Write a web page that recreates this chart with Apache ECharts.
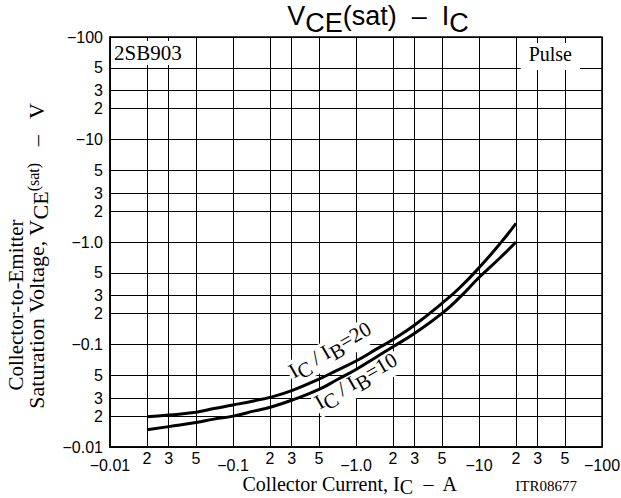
<!DOCTYPE html>
<html><head><meta charset="utf-8">
<script src="https://cdn.jsdelivr.net/npm/echarts@6/dist/echarts.min.js"></script>
<style>html,body{margin:0;padding:0;background:#fff}#c{width:621px;height:498px}</style>
</head><body><div id="c"></div>
<script>
// Collector current (magnitude, A) and saturation voltage (magnitude, V)
const currentA   = [0.02, 0.03, 0.05, 0.07, 0.1, 0.15, 0.2, 0.3, 0.5, 0.7, 1, 1.5, 2, 3, 5, 7, 10, 15, 20];
const vceRatio20 = [0.0197, 0.0205, 0.0218, 0.0237, 0.0257, 0.0283, 0.0305, 0.0355, 0.046, 0.056, 0.069, 0.0916, 0.112, 0.155, 0.252, 0.36, 0.56, 0.98, 1.52];
const vceRatio10 = [0.0147, 0.0158, 0.0173, 0.0187, 0.0200, 0.0225, 0.0244, 0.0286, 0.0365, 0.0453, 0.057, 0.0769, 0.095, 0.129, 0.201, 0.29, 0.45, 0.71, 1.0];

const decadeValues = [0.01, 0.1, 1, 10, 100];
const decadeLabels = ['\u22120.01', '\u22120.1', '\u22121.0', '\u221210', '\u2212100'];
const minorValues  = [0.02, 0.03, 0.05, 0.2, 0.3, 0.5, 2, 3, 5, 20, 30, 50];
const minorLabels  = ['2', '3', '5', '2', '3', '5', '2', '3', '5', '2', '3', '5'];

const gridValues = decadeValues.concat(minorValues).sort((a, b) => a - b);

const SERIF = '"Liberation Serif","Times New Roman",Times,serif';
const SANS = '"Liberation Sans",Arial,Helvetica,sans-serif';

function labelFor(v) {
  const i = decadeValues.findIndex(d => Math.abs(d - v) < d * 1e-6);
  if (i >= 0) return decadeLabels[i];
  const j = minorValues.findIndex(d => Math.abs(d - v) < d * 1e-6);
  return j >= 0 ? minorLabels[j] : '';
}

const chart = echarts.init(document.getElementById('c'), null, {renderer: 'svg', width: 621, height: 498});
const gridLine = {show: true, lineStyle: {color: '#000', width: 1, type: 'solid'}};

function richSub(fontSize, family, shift, smallSize) {
  return {
    m: {fontSize: fontSize, fontFamily: family, fill: '#000', verticalAlign: 'top'},
    s: {fontSize: fontSize, fontFamily: family, fill: '#000', verticalAlign: 'top', padding: [shift, 0, 0, 0]},
    p: {fontSize: smallSize || Math.round(fontSize * 0.7), fontFamily: family, fill: '#000', verticalAlign: 'top', padding: [0, 0, 0, 0]}
  };
}

const option = {
  animation: false,
  backgroundColor: '#fff',
  grid: {left: 110, right: 19, top: 37, bottom: 51, show: true, borderColor: '#000', borderWidth: 1.5,
         backgroundColor: 'transparent', containLabel: false, outerBoundsMode: 'none'},
  xAxis: [
    {type: 'log', logBase: 10, min: 0.01, max: 100, position: 'bottom',
     axisLine: {show: true, lineStyle: {color: '#000', width: 1.5}},
     axisTick: {show: false, customValues: gridValues},
     minorTick: {show: false}, minorSplitLine: {show: false},
     splitLine: gridLine,
     axisLabel: {show: true, customValues: decadeValues, formatter: labelFor, margin: 10,
                 color: '#000', fontFamily: SANS, fontSize: 16, showMinLabel: true, showMaxLabel: true}},
    {type: 'log', logBase: 10, min: 0.01, max: 100, position: 'bottom',
     axisLine: {show: false}, axisTick: {show: false}, splitLine: {show: false},
     minorTick: {show: false}, minorSplitLine: {show: false},
     axisLabel: {show: true, customValues: minorValues, formatter: labelFor, margin: 3,
                 color: '#000', fontFamily: SANS, fontSize: 16}}
  ],
  yAxis: {
    type: 'log', logBase: 10, min: 0.01, max: 100,
    axisLine: {show: true, lineStyle: {color: '#000', width: 1.5}},
    axisTick: {show: false, customValues: gridValues},
    minorTick: {show: false}, minorSplitLine: {show: false},
    splitLine: gridLine,
    axisLabel: {show: true, customValues: gridValues, formatter: labelFor, margin: 7,
                color: '#000', fontFamily: SANS, fontSize: 16, showMinLabel: true, showMaxLabel: true}
  },
  series: [
    {name: 'IC/IB=20', type: 'line', xAxisIndex: 0, yAxisIndex: 0, smooth: 0.5, symbol: 'none',
     lineStyle: {color: '#000', width: 3}, z: 3,
     data: currentA.map((x, i) => [x, vceRatio20[i]])},
    {name: 'IC/IB=10', type: 'line', xAxisIndex: 0, yAxisIndex: 0, smooth: 0.5, symbol: 'none',
     lineStyle: {color: '#000', width: 3}, z: 3,
     data: currentA.map((x, i) => [x, vceRatio10[i]])}
  ],
  graphic: [
    {type: 'text', x: 378, y: 2, z: 5,
     style: {text: '{m|V}{s|CE}{m|(sat)  \u2013  I}{s|C}', rich: richSub(27, SANS, 7),
             textAlign: 'center', textVerticalAlign: 'top'}},
    {type: 'text', x: 113, y: 41, z: 5,
     style: {text: '2SB903', font: '21px ' + SERIF, fill: '#000', backgroundColor: '#fff',
             padding: [1, 12, 2, 1], textAlign: 'left', textVerticalAlign: 'top'}},
    {type: 'text', x: 580, y: 43, z: 5,
     style: {text: 'Pulse', font: '20px ' + SERIF, fill: '#000', backgroundColor: '#fff',
             padding: [1, 8, 6, 8], textAlign: 'right', textVerticalAlign: 'top'}},
    {type: 'text', x: 331, y: 352, z: 1, rotation: 30 * Math.PI / 180,
     style: {text: '{m|I}{s|C}{m| / I}{s|B}{m|=20}', rich: richSub(21, SERIF, 5),
             backgroundColor: '#fff', padding: [0, 2, 0, 2], textAlign: 'center', textVerticalAlign: 'middle'}},
    {type: 'text', x: 357, y: 383, z: 1, rotation: 30 * Math.PI / 180,
     style: {text: '{m|I}{s|C}{m| / I}{s|B}{m|=10}', rich: richSub(21, SERIF, 5),
             backgroundColor: '#fff', padding: [0, 2, 0, 2], textAlign: 'center', textVerticalAlign: 'middle'}},
    {type: 'text', x: 350, y: 474, z: 5,
     style: {text: '{m|Collector Current, I}{s|C}{m|  \u2013  A}', rich: richSub(20, SERIF, 3),
             textAlign: 'center', textVerticalAlign: 'top'}},
    {type: 'text', x: 577, y: 478, z: 5,
     style: {text: 'ITR08677', font: '15px ' + SERIF, fill: '#000', textAlign: 'right', textVerticalAlign: 'top'}},
    {type: 'text', x: 16, y: 305, z: 5, rotation: Math.PI / 2,
     style: {text: 'Collector-to-Emitter', font: '21px ' + SERIF, fill: '#000',
             textAlign: 'center', textVerticalAlign: 'middle'}},
    {type: 'text', x: 38, y: 256, z: 5, rotation: Math.PI / 2,
     style: {text: '{m|Saturation Voltage, V}{s|CE}{p|(sat)}{m|   \u2013   V}', rich: richSub(22, SERIF, 4, 16),
             textAlign: 'center', textVerticalAlign: 'middle'}}
  ]
};
chart.setOption(option);
</script>
</body></html>
